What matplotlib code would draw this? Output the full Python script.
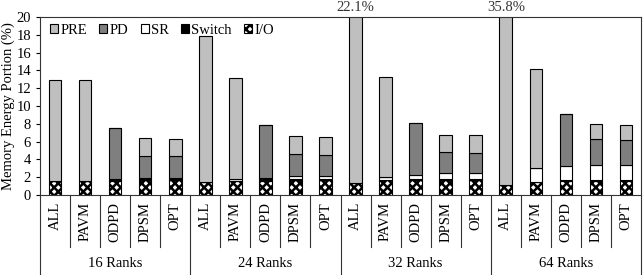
import matplotlib
matplotlib.use("Agg")
import matplotlib.pyplot as plt
import numpy as np

plt.rcParams["font.family"] = ["Liberation Serif", "DejaVu Serif"]
plt.rcParams["hatch.linewidth"] = 1.8

groups = ["16 Ranks", "24 Ranks", "32 Ranks", "64 Ranks"]
schemes = ["ALL", "PAVM", "ODPD", "DPSM", "OPT"]

# stacked components, bottom to top, 4 groups x 5 schemes
io = [1.55, 1.55, 1.6, 1.65, 1.65,
      1.5, 1.6, 1.6, 1.7, 1.7,
      1.35, 1.65, 1.65, 1.65, 1.65,
      1.1, 1.45, 1.55, 1.55, 1.55]
switch = [0, 0, 0.15, 0.2, 0.2,
          0, 0, 0.25, 0.1, 0.1,
          0, 0, 0.15, 0.1, 0.1,
          0, 0, 0.15, 0.1, 0.1]
sr = [0, 0, 0, 0.05, 0.05,
      0, 0.15, 0.1, 0.35, 0.35,
      0, 0.4, 0.45, 0.7, 0.7,
      0, 1.55, 1.55, 1.75, 1.75]
pd = [0, 0, 5.8, 2.53, 2.49,
      0, 0, 5.93, 2.43, 2.35,
      0, 0, 5.85, 2.35, 2.28,
      0, 0, 5.87, 2.9, 2.79]
pre = [11.32, 11.32, 0, 1.99, 1.95,
       16.32, 11.38, 0, 2.06, 2.07,
       20.75, 11.26, 0, 1.95, 1.99,
       34.7, 11.18, 0, 1.69, 1.69]

fig = plt.figure(figsize=(6.44, 2.75), dpi=100)
ax = fig.add_axes([40 / 644, 80 / 275, 601 / 644, 178 / 275])

n = len(io)
x = np.arange(n) + 0.5
w = 0.42
bottom = np.zeros(n)
layers = [
    (io, "I/O", "white", "xxxx"),
    (switch, "Switch", "black", None),
    (sr, "SR", "white", None),
    (pd, "PD", "#7f7f7f", None),
    (pre, "PRE", "#bfbfbf", None),
]
handles = {}
for vals, name, color, hatch in layers:
    vals = np.array(vals)
    b = ax.bar(x, vals, w, bottom=bottom, color=color, edgecolor="black",
               linewidth=0.8, hatch=hatch, label=name)
    handles[name] = b
    bottom += vals

ax.set_xlim(0, n)
ax.set_ylim(0, 20)
ax.set_yticks(np.arange(0, 21, 2))
ax.tick_params(axis="y", labelsize=10.5, length=3, width=0.8, direction="out")
ax.set_xticks([])
ax.set_ylabel("Memory Energy Portion (%)", fontsize=10.5, labelpad=1)
for s in ax.spines.values():
    s.set_linewidth(0.8)
    s.set_color("#333333")

# labels for bars that go past the axis top
for xi, tot in zip(x, bottom):
    if tot > 20:
        ax.text(xi, 20.3, "%.1f%%" % tot, ha="center", va="bottom", fontsize=10.5,
                color="#333333")

# category and group labels below the axis
tr = ax.get_xaxis_transform()
for i in range(n):
    ax.text(x[i], -0.04, schemes[i % 5], rotation=90, ha="center", va="top",
            fontsize=10.5, transform=tr, clip_on=False)
for i in range(n + 1):
    if i % 5 == 0:
        ax.plot([i, i], [0, -0.45], color="#333333", lw=0.8, transform=tr, clip_on=False)
    else:
        ax.plot([i, i], [0, -0.29], color="#333333", lw=0.8, transform=tr, clip_on=False)
for g, name in enumerate(groups):
    ax.text(g * 5 + 2.5, -0.385, name, ha="center", va="center", fontsize=10.5,
            transform=tr, clip_on=False)

order = ["PRE", "PD", "SR", "Switch", "I/O"]
ax.legend([handles[k] for k in order], order, ncol=5, loc="upper left",
          bbox_to_anchor=(0.0, 1.02), frameon=False, fontsize=10.5,
          handlelength=0.55, handleheight=0.55, handletextpad=0.15,
          columnspacing=0.85, borderaxespad=0.3)

fig.savefig("out.png", dpi=100)
